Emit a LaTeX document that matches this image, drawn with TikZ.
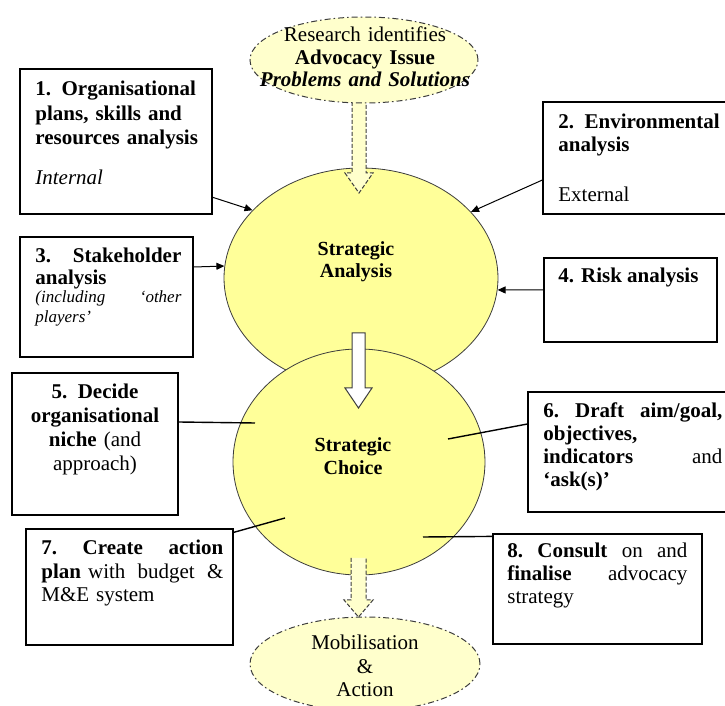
\documentclass[tikz,border=0pt]{standalone}
\usepackage{fontspec}
\setmainfont{Liberation Serif}
\usetikzlibrary{shapes.geometric,fit,arrows.meta}
\definecolor{circfill}{RGB}{255,255,153}
\definecolor{palefill}{RGB}{255,255,204}
\definecolor{edgegrey}{RGB}{60,60,60}

\begin{document}
\begin{tikzpicture}[x=0.5pt,y=-0.5pt,
  box/.style={draw=black,line width=0.6pt,inner sep=0pt},
  circ/.style={ellipse,draw=edgegrey,line width=0.4pt,fill=circfill,inner sep=0pt},
  cloud/.style={ellipse,draw=edgegrey,line width=0.5pt,fill=palefill,inner sep=0pt,
    dash pattern=on 3pt off 1.5pt on 0.8pt off 1.5pt},
  txt/.style={inner sep=0pt,anchor=base west,align=left},
  ctxt/.style={inner sep=0pt,anchor=base,align=center},
  feed/.style={-{Triangle[length=4pt,width=3.5pt]},line width=0.5pt},
  link/.style={line width=0.7pt},
  dasharrow/.style={draw=edgegrey,dash pattern=on 2pt off 1pt,fill=palefill,line width=0.5pt},
  whitearrow/.style={draw=edgegrey,fill=white,line width=0.5pt}]
  \useasboundingbox (0,0) rectangle (725,706);
  \clip (0,0) rectangle (725,706);

  % the two big circles
  \node[circ,minimum width=137pt,minimum height=110pt] (ana) at (361,278) {};
  \node[circ,minimum width=126pt,minimum height=113pt] (choice) at (359,462) {};
  \node[ctxt,text width=60pt,font=\bfseries\fontsize{10}{11}\selectfont] (anatext) at (356,256) {Strategic\\ Analysis};
  \node[ctxt,text width=60pt,font=\bfseries\fontsize{10}{11.5}\selectfont] (choicetext) at (353,452) {Strategic\\ Choice};

  % block arrows
  \draw[dasharrow] (352,96) -- (352,173) -- (345,173) -- (359,193) -- (373,173) -- (366,173) -- (366,96);
  \draw[whitearrow] (352,333) -- (352,388) -- (345,388) -- (358.5,408) -- (372,388) -- (365,388) -- (365,333) -- cycle;
  \draw[dasharrow] (351,558) -- (351,600) -- (344,600) -- (358.5,617) -- (373,600) -- (366,600) -- (366,558);

  % top and bottom ellipses
  \node[cloud,minimum width=114pt,minimum height=43pt] (issue) at (364,60) {};
  \node[cloud,minimum width=115pt,minimum height=47pt] (mob) at (365,664) {};
  \node[ctxt,text width=112pt,font=\fontsize{10.5}{11.25}\selectfont] (issuetext) at (365,42)
    {Research identifies\\ \textbf{Advocacy Issue}\\ \textbf{\textit{Problems and Solutions}}};
  \node[ctxt,text width=80pt,font=\fontsize{10.5}{11.75}\selectfont] (mobtext) at (365,650) {Mobilisation\\ \&\\ Action};

  % boxes
  \node[box,fit={(20,69) (212,214)}] (org) {};
  \node[box,fit={(543,102) (760,214)}] (env) {};
  \node[box,fit={(20,237) (193,357)}] (stake) {};
  \node[box,fit={(544,258) (717,342)}] (risk) {};
  \node[box,fit={(12,373) (178,515)}] (niche) {};
  \node[box,fit={(528,392) (760,512)}] (draft) {};
  \node[box,fit={(26,529) (233,645)}] (plan) {};
  \node[box,fit={(493,534) (702,644)}] (consult) {};

  \node[txt,text width=84pt,font=\fontsize{10.5}{12.25}\selectfont] (orgtext) at (35,96)
    {\textbf{1. Organisational\\ plans, skills and\\ resources analysis}\\[7.75pt] \textit{Internal}};
  \node[txt,text width=85pt,font=\fontsize{10.5}{11.5}\selectfont] (envtext) at (558,129)
    {\textbf{2. Environmental\\ analysis}\\[13.5pt] External};
  \node[txt,text width=73pt,font=\bfseries\fontsize{10.5}{11}\selectfont] (staketext) at (35,263)
    {3.\hfill Stakeholder\\ analysis};
  \node[txt,text width=73pt,font=\itshape\fontsize{8.5}{10}\selectfont] (playerstext) at (35,303)
    {(including\hfill ‘other\\ players’};
  \node[txt,font=\bfseries\fontsize{10.5}{11}\selectfont] (risktext) at (558,283) {4. Risk analysis};
  \node[ctxt,text width=80pt,font=\fontsize{10.5}{12}\selectfont] (nichetext) at (95,399)
    {\textbf{5. Decide\\ organisational\\ niche} (and\\ approach)};
  \node[txt,text width=89.5pt,font=\bfseries\fontsize{10.5}{11.5}\selectfont] (drafttext) at (543,418)
    {6.\hfill Draft\hfill aim/goal,\\ objectives,\\ indicators\hfill \textmd{and}\\ ‘ask(s)’};
  \node[txt,text width=91pt,font=\fontsize{10.5}{11.75}\selectfont] (plantext) at (41,555)
    {\textbf{7.}\hfill\textbf{Create}\hfill\textbf{action}\\ \textbf{plan} with\hfill budget\hfill\&\\ M\&E system};
  \node[txt,text width=90pt,font=\fontsize{10.5}{11.5}\selectfont] (consulttext) at (507,558)
    {\textbf{8.}\hfill\textbf{Consult}\hfill on\hfill and\\ \textbf{finalise}\hfill advocacy\\ strategy};

  % analysis inputs
  \draw[feed] (org.-30.5) -- (ana.148);
  \draw[feed] ([yshift=-11pt]env.west) -- (ana.31);
  \draw[feed] ([yshift=15pt]stake.east) -- (ana.175.4);
  \draw[feed] ([yshift=5pt]risk.west) -- (ana.-5);

  % choice links
  \coordinate (s5) at ([yshift=11pt]niche.east);
  \coordinate (s6) at ([yshift=14pt]draft.west);
  \coordinate (s7) at ([yshift=-2pt]plan.north east);
  \coordinate (s8) at ([yshift=-1.5pt]consult.north west);
  \coordinate (p5) at (255,423);
  \coordinate (p6) at (448,439);
  \coordinate (p7) at (285,518);
  \coordinate (p8) at (423,537);
  \foreach \from/\to in {s5/p5,s6/p6,s7/p7,s8/p8}
    \draw[link] (\from) -- (\to);

\end{tikzpicture}
\end{document}
